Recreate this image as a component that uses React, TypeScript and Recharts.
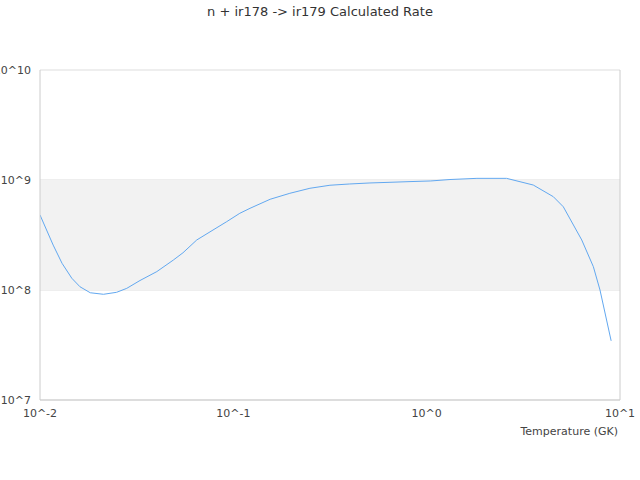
import {
  CartesianGrid,
  Line,
  LineChart,
  ReferenceArea,
  ReferenceLine,
  XAxis,
  YAxis,
} from "recharts";

// temperature in GK
const temperatures = [
  0.01, 0.0117, 0.013, 0.0146, 0.0161, 0.0182, 0.0213, 0.0249, 0.0281, 0.0329, 0.0402, 0.0489, 0.0549,
  0.0647, 0.0785, 0.0924, 0.108, 0.122, 0.155, 0.196, 0.249, 0.316, 0.4, 0.509, 0.646, 0.82, 1.05, 1.32,
  1.82, 2.59, 3.56, 4.52, 5.09, 6.34, 7.28, 7.88, 9.0,
];

// calculated rate
const rates = [
  4.81e8, 2.56e8, 1.75e8, 1.28e8, 1.07e8, 9.44e7, 9.14e7, 9.53e7, 1.035e8, 1.22e8, 1.47e8, 1.87e8, 2.18e8,
  2.85e8, 3.51e8, 4.18e8, 4.98e8, 5.53e8, 6.68e8, 7.57e8, 8.41e8, 8.96e8, 9.2e8, 9.4e8, 9.53e8, 9.67e8,
  9.8e8, 1.01e9, 1.035e9, 1.035e9, 9.0e8, 7.05e8, 5.71e8, 2.85e8, 1.63e8, 1.0e8, 3.45e7,
];

const xTicks = [0.01, 0.1, 1, 10];
const yTicks = [1e7, 1e8, 1e9, 1e10];

function formatPower(value: number): string {
  return `10^${Math.round(Math.log10(value))}`;
}

export default function App() {
  const data = temperatures.map((t, i) => ({ t, rate: rates[i] }));
  const font = "'DejaVu Sans', sans-serif";

  return (
    <div style={{ position: "absolute", left: 0, top: 0, width: 640, height: 480, background: "#fff", fontFamily: font }}>
      <div
        style={{
          position: "absolute",
          top: 4,
          width: 640,
          textAlign: "center",
          fontSize: 13,
          color: "#333",
        }}
      >
        n + ir178 -&gt; ir179 Calculated Rate
      </div>
      <LineChart width={640} height={480} data={data} margin={{ top: 70, right: 20, bottom: 43, left: 0 }}>
        <ReferenceArea y1={1e8} y2={1e9} fill="#f2f2f2" fillOpacity={1} stroke="none" ifOverflow="hidden" />
        <CartesianGrid vertical={false} stroke="#dddddd" strokeDasharray="" />
        <ReferenceLine x={10} stroke="#cccccc" />
        <XAxis
          dataKey="t"
          type="number"
          scale="log"
          domain={[0.01, 10]}
          allowDataOverflow
          ticks={xTicks}
          tickFormatter={formatPower}
          tickLine={false}
          tickSize={0}
          tickMargin={9}
          height={37}
          axisLine={{ stroke: "#cccccc" }}
          tick={{ fill: "#444", fontSize: 11, fontFamily: font }}
          label={{
            value: "Temperature (GK)",
            position: "insideBottomRight",
            offset: 2,
            fill: "#444",
            fontSize: 11,
            fontFamily: font,
          }}
        />
        <YAxis
          type="number"
          scale="log"
          domain={[1e7, 1e10]}
          allowDataOverflow
          ticks={yTicks}
          tickFormatter={formatPower}
          tickLine={false}
          tickSize={0}
          tickMargin={9}
          width={40}
          axisLine={{ stroke: "#cccccc" }}
          tick={{ fill: "#444", fontSize: 11, fontFamily: font }}
        />
        <Line
          type="linear"
          dataKey="rate"
          stroke="#62a8f0"
          strokeWidth={1}
          dot={false}
          isAnimationActive={false}
        />
      </LineChart>
    </div>
  );
}
